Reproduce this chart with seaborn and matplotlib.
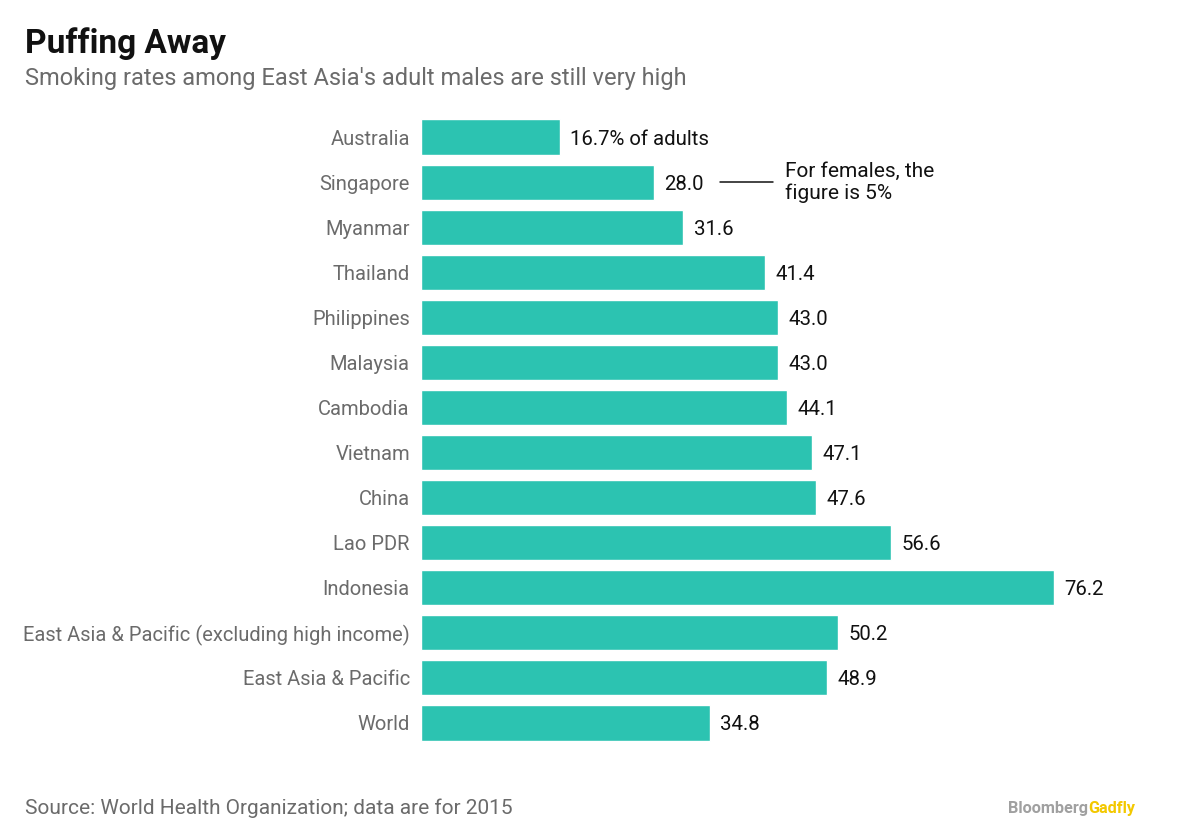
import numpy as np
import pandas as pd
import matplotlib
matplotlib.use("Agg")
import matplotlib.pyplot as plt
import seaborn as sns

countries = ["Australia", "Singapore", "Myanmar", "Thailand", "Philippines",
             "Malaysia", "Cambodia", "Vietnam", "China", "Lao PDR", "Indonesia",
             "East Asia & Pacific (excluding high income)", "East Asia & Pacific",
             "World"]
rates = [16.7, 28.0, 31.6, 41.4, 43.0, 43.0, 44.1, 47.1, 47.6, 56.6, 76.2,
         50.2, 48.9, 34.8]
value_labels = ["16.7% of adults"] + [f"{v:.1f}" for v in rates[1:]]

df = pd.DataFrame({"country": countries, "rate": rates})

sns.set_theme(style="white")
plt.rcParams["font.family"] = ["Roboto", "DejaVu Sans"]

teal = "#2cc3b1"
grey = "#6b6b6b"

fig = plt.figure(figsize=(12, 8.32), dpi=100)
ax = fig.add_axes([0.3508, 0.104, 0.61, 0.7584])

sns.barplot(data=df, y="country", x="rate", orient="h", color=teal,
            width=0.78, saturation=1, ax=ax)

px_per_unit = (1054 - 421) / 76.2
ax.set_xlim(0, 0.61 * 1200 / px_per_unit)
ax.set_ylim(len(countries) - 0.5, -0.5)

ax.set_xlabel("")
ax.set_ylabel("")
ax.set_xticks([])
ax.tick_params(axis="y", length=0, pad=8, labelsize=14.5, labelcolor=grey)
for s in ax.spines.values():
    s.set_visible(False)

for i, (v, lab) in enumerate(zip(rates, value_labels)):
    ax.annotate(lab, xy=(v, i), xytext=(7.5, 0), textcoords="offset points",
                va="center_baseline", ha="left", fontsize=14.7, color="#111111")

# annotation for Singapore
ax.plot([(720 - 421) / px_per_unit, (773 - 421) / px_per_unit], [1, 1],
        color="#111111", lw=1.1)
ax.text((785 - 421) / px_per_unit, 1, "For females, the\nfigure is 5%",
        va="center", ha="left", fontsize=15, color="#111111", linespacing=1.15)

fig.text(25 / 1200, 1 - 44 / 832, "Puffing Away", fontsize=24, fontweight="bold",
         color="#111111", va="center", ha="left")
fig.text(25 / 1200, 1 - 79 / 832,
         "Smoking rates among East Asia's adult males are still very high",
         fontsize=17, color=grey, va="center", ha="left")
fig.text(25 / 1200, 1 - 808 / 832,
         "Source: World Health Organization; data are for 2015",
         fontsize=15, color=grey, va="center", ha="left")

t1 = fig.text(1008 / 1200, 1 - 808 / 832, "Bloomberg", fontsize=11.7,
              fontweight="bold", color="#a0a0a0", va="center", ha="left")
fig.canvas.draw()
bb = t1.get_window_extent()
fig.text(bb.x1 / fig.bbox.width, 1 - 808 / 832, "Gadfly", fontsize=11.7,
         fontweight="bold", color="#f3c800", va="center", ha="left")

fig.savefig("out.png", dpi=100)
